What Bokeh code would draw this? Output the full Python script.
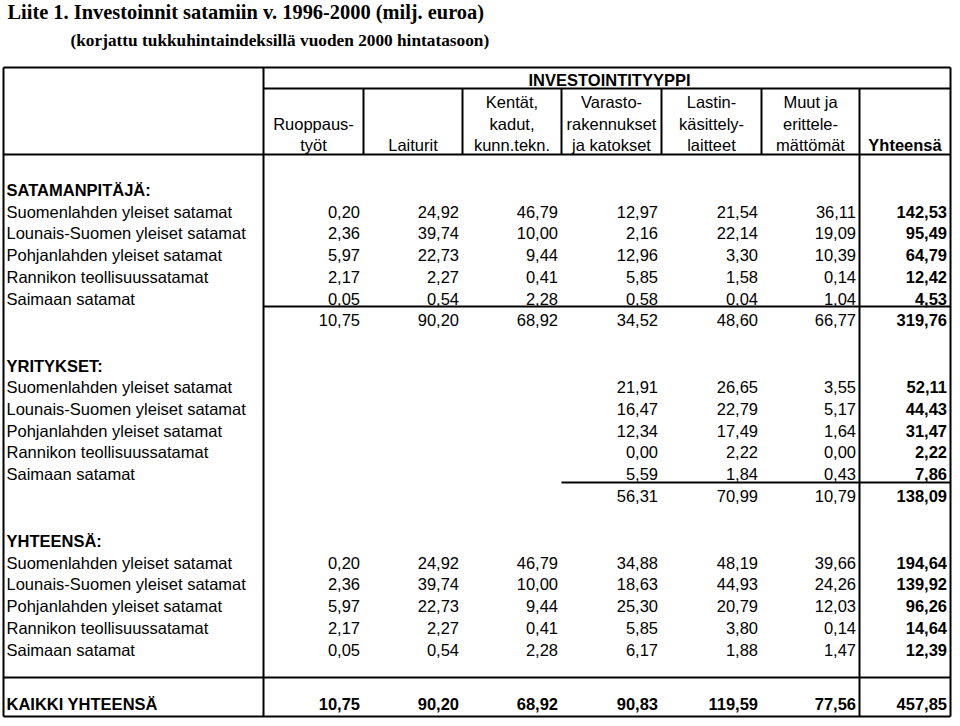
from bokeh.plotting import figure
from bokeh.models import Range1d
from bokeh.core.properties import value
from bokeh.embed import file_html
from bokeh.resources import INLINE

# ---------------- data ----------------
TITLE = "Liite 1. Investoinnit satamiin v. 1996-2000 (milj. euroa)"
SUBTITLE = "(korjattu tukkuhintaindeksillä vuoden 2000 hintatasoon)"
GROUP_HEADER = "INVESTOINTITYYPPI"
COLUMN_HEADERS = [
    ["", "Ruoppaus-", "työt"],
    ["", "", "Laiturit"],
    ["Kentät,", "kadut,", "kunn.tekn."],
    ["Varasto-", "rakennukset", "ja katokset"],
    ["Lastin-", "käsittely-", "laitteet"],
    ["Muut ja", "erittele-", "mättömät"],
    ["", "", "Yhteensä"],
]
PORTS = ["Suomenlahden yleiset satamat", "Lounais-Suomen yleiset satamat",
         "Pohjanlahden yleiset satamat", "Rannikon teollisuussatamat",
         "Saimaan satamat"]
SECTIONS = ["SATAMANPITÄJÄ:", "YRITYKSET:", "YHTEENSÄ:"]

# SATAMANPITÄJÄ
sp_ruoppaus = [0.20, 2.36, 5.97, 2.17, 0.05]
sp_laiturit = [24.92, 39.74, 22.73, 2.27, 0.54]
sp_kentat = [46.79, 10.00, 9.44, 0.41, 2.28]
sp_varasto = [12.97, 2.16, 12.96, 5.85, 0.58]
sp_lastin = [21.54, 22.14, 3.30, 1.58, 0.04]
sp_muut = [36.11, 19.09, 10.39, 0.14, 1.04]
sp_yht = [142.53, 95.49, 64.79, 12.42, 4.53]
sp_total = [10.75, 90.20, 68.92, 34.52, 48.60, 66.77, 319.76]

# YRITYKSET
yr_ruoppaus = [None] * 5
yr_laiturit = [None] * 5
yr_kentat = [None] * 5
yr_varasto = [21.91, 16.47, 12.34, 0.00, 5.59]
yr_lastin = [26.65, 22.79, 17.49, 2.22, 1.84]
yr_muut = [3.55, 5.17, 1.64, 0.00, 0.43]
yr_yht = [52.11, 44.43, 31.47, 2.22, 7.86]
yr_total = [None, None, None, 56.31, 70.99, 10.79, 138.09]

# YHTEENSÄ
yh_ruoppaus = [0.20, 2.36, 5.97, 2.17, 0.05]
yh_laiturit = [24.92, 39.74, 22.73, 2.27, 0.54]
yh_kentat = [46.79, 10.00, 9.44, 0.41, 2.28]
yh_varasto = [34.88, 18.63, 25.30, 5.85, 6.17]
yh_lastin = [48.19, 44.93, 20.79, 3.80, 1.88]
yh_muut = [39.66, 24.26, 12.03, 0.14, 1.47]
yh_yht = [194.64, 139.92, 96.26, 14.64, 12.39]

GRAND_LABEL = "KAIKKI YHTEENSÄ"
grand_total = [10.75, 90.20, 68.92, 90.83, 119.59, 77.56, 457.85]

# ---------------- layout ----------------
W, H = 952, 718
COL_EDGES = [263, 363, 462, 561, 661, 761, 859, 950]
LEFT, TOP, BOTTOM = 3, 67, 716
SANS = "Liberation Sans"
SERIF = "Liberation Serif"
FS = "16.5px"

p = figure(width=W, height=H, output_backend="svg", toolbar_location=None,
           x_range=Range1d(0, W), y_range=Range1d(H, 0), min_border=0)
p.axis.visible = False
p.grid.visible = False
p.outline_line_color = None
p.background_fill_color = "white"
p.border_fill_color = "white"

texts = {}


def add(x, y, t, align="left", bold=False, size=FS, font=SANS):
    key = (align, bold, size, font)
    d = texts.setdefault(key, {"x": [], "y": [], "t": []})
    d["x"].append(x)
    d["y"].append(y)
    d["t"].append(t)


def fmt(v):
    return f"{v:.2f}".replace(".", ",")


# titles
add(7, 11, TITLE, bold=True, size="20.4px", font=SERIF)
add(70, 40, SUBTITLE, bold=True, size="17.3px", font=SERIF)

# header
add((COL_EDGES[0] + 955) / 2, 79, GROUP_HEADER, "center", True)
header_y = [101.5, 123, 144.5]
for ci, lines in enumerate(COLUMN_HEADERS):
    cx = (COL_EDGES[ci] + COL_EDGES[ci + 1]) / 2
    for li, t in enumerate(lines):
        if t:
            add(cx, header_y[li], t, "center", ci == 6)

# body
PITCH = 21.7
section_y = [189.5, 365, 540.5]
blocks = [
    [sp_ruoppaus, sp_laiturit, sp_kentat, sp_varasto, sp_lastin, sp_muut, sp_yht],
    [yr_ruoppaus, yr_laiturit, yr_kentat, yr_varasto, yr_lastin, yr_muut, yr_yht],
    [yh_ruoppaus, yh_laiturit, yh_kentat, yh_varasto, yh_lastin, yh_muut, yh_yht],
]
totals = [sp_total, yr_total, None]
for si, (name, y0) in enumerate(zip(SECTIONS, section_y)):
    add(6, y0, name, bold=True)
    for ri, port in enumerate(PORTS):
        y = y0 + PITCH * (ri + 1)
        add(6, y, port)
        for ci, col in enumerate(blocks[si]):
            v = col[ri]
            if v is not None:
                add(COL_EDGES[ci + 1] - 3.5, y, fmt(v), "right", ci == 6)
    if totals[si] is not None:
        y = y0 + PITCH * 6
        for ci, v in enumerate(totals[si]):
            if v is not None:
                add(COL_EDGES[ci + 1] - 3.5, y, fmt(v), "right", ci == 6)

gy = 703
add(6, gy, GRAND_LABEL, bold=True)
for ci, v in enumerate(grand_total):
    add(COL_EDGES[ci + 1] - 3.5, gy, fmt(v), "right", True)

for (align, bold, size, font), d in texts.items():
    p.text(x=d["x"], y=d["y"], text=d["t"], text_align=align,
           text_baseline="middle", text_font=value(font),
           text_font_size=value(size),
           text_font_style="bold" if bold else "normal",
           text_color="black")

# grid lines
x0s, y0s, x1s, y1s = [], [], [], []


def seg(a, b, c, d):
    x0s.append(a); y0s.append(b); x1s.append(c); y1s.append(d)


R = COL_EDGES[-1]
seg(LEFT, TOP, R, TOP)
seg(LEFT, BOTTOM, R, BOTTOM)
seg(LEFT, TOP, LEFT, BOTTOM)
seg(R, TOP, R, BOTTOM)
seg(COL_EDGES[0], TOP, COL_EDGES[0], BOTTOM)
seg(COL_EDGES[0], 88, R, 88)
seg(LEFT, 154, R, 154)
seg(COL_EDGES[6], 88, COL_EDGES[6], BOTTOM)
for e in COL_EDGES[1:6]:
    seg(e, 88, e, 154)
seg(COL_EDGES[0], 306, R, 306)
seg(COL_EDGES[3], 482, R, 482)
seg(LEFT, 677, R, 677)

p.segment(x0=x0s, y0=y0s, x1=x1s, y1=y1s, line_color="black", line_width=2)

open("out.html", "w").write(file_html(p, INLINE))
